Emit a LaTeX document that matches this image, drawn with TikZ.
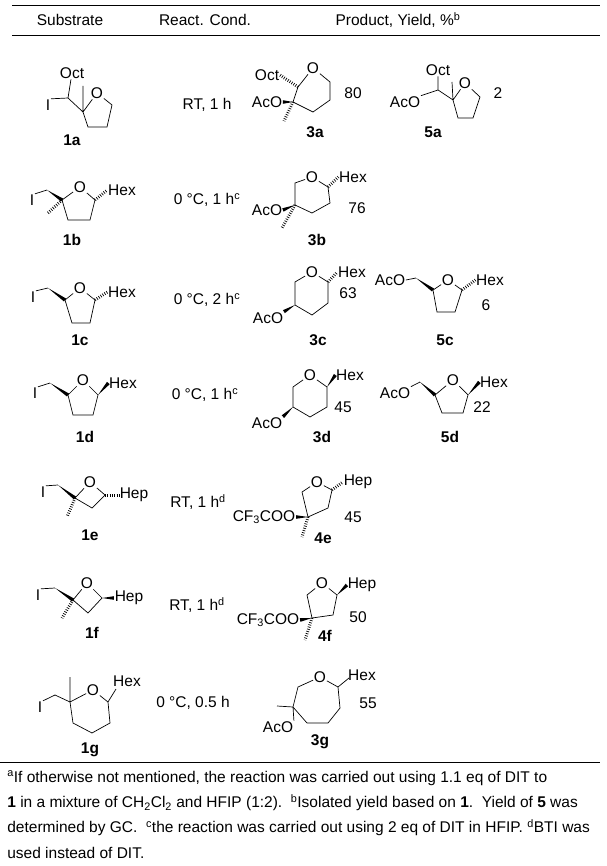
\documentclass[tikz,border=0pt]{standalone}
\usepackage{fontspec}
\setmainfont{Liberation Sans}
\usetikzlibrary{calc}
\newcommand\fs{\fontsize{15.5}{18}\selectfont}
\newcommand\wdg[2]{\fill (#1) -- ($(#2)!1.8pt!90:(#1)$) -- ($(#2)!1.8pt!-90:(#1)$) -- cycle;}
\newcommand\hsh[2]{\draw[line width=3pt,dash pattern=on 0.7pt off 1.6pt] (#1) -- (#2);}
\begin{document}
\begin{tikzpicture}[x=1pt,y=-1pt,line width=0.7pt,
  lbl/.style={inner sep=0.5pt,font=\fs},
  cmp/.style={inner sep=1pt,font=\fs\bfseries},
  txt/.style={inner sep=0pt,font=\fs}]
\useasboundingbox (0,0) rectangle (606,866);
% table rules
\coordinate (t1) at (12,5); \coordinate (t2) at (600,5);
\coordinate (h1) at (12,35); \coordinate (h2) at (600,35);
\coordinate (b1) at (0,762); \coordinate (b2) at (600,762);
\draw[line width=0.8pt] (t1)--(t2); \draw[line width=0.8pt] (h1)--(h2); \draw[line width=0.8pt] (b1)--(b2);
\node[txt] (hs) at (70,20) {Substrate};
\node[txt] (hr) at (205,20) {React. Cond.};
\node[txt] (hp) at (398,20) {Product, Yield, \%\textsuperscript{b}};
% conditions
\node[txt] (c1) at (207,105) {RT, 1 h};
\node[txt] (c2) at (207,200) {0 °C, 1 h\textsuperscript{c}};
\node[txt] (c3) at (207,300) {0 °C, 2 h\textsuperscript{c}};
\node[txt] (c4) at (205,395) {0 °C, 1 h\textsuperscript{c}};
\node[txt] (c5) at (198,502) {RT, 1 h\textsuperscript{d}};
\node[txt] (c6) at (197,605) {RT, 1 h\textsuperscript{d}};
\node[txt] (c7) at (193,703) {0 °C, 0.5 h};
% ---------- 1a
\node[lbl] (aOct) at (72,73) {Oct};
\node[lbl] (aI) at (48,105) {I};
\node[lbl] (aO) at (97,93) {O};
\coordinate (a1) at (68,98); \coordinate (a2) at (83,112); \coordinate (a3) at (112,105);
\coordinate (a4) at (107,127); \coordinate (a5) at (88,127); \coordinate (am) at (83,86);
\draw (aOct)--(a1) (aI.north east)--(a1)--(a2)--(aO)--(a3)--(a4)--(a5)--(a2)--(am);
\node[cmp] (l1a) at (72,140) {1a};
% ---------- 3a
\node[lbl] (bOct) at (267,75) {Oct};
\node[lbl] (bO) at (313,68) {O};
\node[lbl] (bAcO) at (267,102) {AcO};
\coordinate (b2c) at (298,87); \coordinate (b6) at (330,82); \coordinate (b5) at (330,100);
\coordinate (b4) at (313,112); \coordinate (b3) at (293,102); \coordinate (bm) at (284,121);
\draw (b2c)--(bO)--(b6)--(b5)--(b4)--(b3)--(b2c);
\hsh{b2c}{bOct.east} \wdg{b3}{bAcO.east} \hsh{b3}{bm}
\node[txt] (y3a) at (353,93) {80};
\node[cmp] (l3a) at (315,132) {3a};
% ---------- 5a
\node[lbl] (cOct) at (438,70) {Oct};
\node[lbl] (cAcO) at (405,102) {AcO};
\node[lbl] (cO) at (465,83) {O};
\coordinate (c1c) at (438,90); \coordinate (c2c) at (453,100); \coordinate (c3c) at (480,97);
\coordinate (c4c) at (473,118); \coordinate (c5c) at (458,118); \coordinate (cm) at (452,82);
\draw (cOct)--(c1c)--(cAcO.north east) (c1c)--(c2c)--(cO)--(c3c)--(c4c)--(c5c)--(c2c)--(cm);
\node[txt] (y5a) at (498,93) {2};
\node[cmp] (l5a) at (433,132) {5a};
% ---------- 1b
\node[lbl] (dI) at (32,200) {I};
\node[lbl] (dO) at (80,187) {O};
\node[lbl] (dHex) at (122,190) {Hex};
\coordinate (d1) at (47,190); \coordinate (d2) at (62,200); \coordinate (d3) at (95,200);
\coordinate (d4) at (90,220); \coordinate (d5) at (68,220); \coordinate (dm) at (47,214);
\draw (dI.north east)--(d1) (d2)--(dO)--(d3)--(d4)--(d5)--(d2);
\wdg{d1}{d2} \hsh{d2}{dm} \hsh{d3}{dHex.west}
\node[cmp] (l1b) at (72,240) {1b};
% ---------- 3b
\node[lbl] (eO) at (312,177) {O};
\node[lbl] (eHex) at (353,177) {Hex};
\node[lbl] (eAcO) at (267,210) {AcO};
\coordinate (e2) at (328,187); \coordinate (e3) at (330,203); \coordinate (e4) at (312,213);
\coordinate (e5) at (295,205); \coordinate (e6) at (295,183); \coordinate (em) at (282,228);
\draw (eO)--(e2)--(e3)--(e4)--(e5)--(e6)--(eO);
\hsh{e2}{eHex.west} \wdg{e5}{eAcO.east} \hsh{e5}{em}
\node[txt] (y3b) at (357,208) {76};
\node[cmp] (l3b) at (317,240) {3b};
% ---------- 1c
\node[lbl] (fI) at (33,297) {I};
\node[lbl] (fO) at (80,288) {O};
\node[lbl] (fHex) at (122,292) {Hex};
\coordinate (f1) at (48,288); \coordinate (f2) at (65,300); \coordinate (f3) at (95,300);
\coordinate (f4) at (90,323); \coordinate (f5) at (72,323);
\draw (fI.north east)--(f1) (f2)--(fO)--(f3)--(f4)--(f5)--(f2);
\wdg{f1}{f2} \hsh{f3}{fHex.west}
\node[cmp] (l1c) at (80,340) {1c};
% ---------- 3c
\node[lbl] (gO) at (312,272) {O};
\node[lbl] (gHex) at (352,272) {Hex};
\node[lbl] (gAcO) at (268,318) {AcO};
\coordinate (g2) at (328,282); \coordinate (g3) at (328,303); \coordinate (g4) at (312,315);
\coordinate (g5) at (295,305); \coordinate (g6) at (295,282);
\draw (gO)--(g2)--(g3)--(g4)--(g5)--(g6)--(gO);
\hsh{g2}{gHex.west} \wdg{g5}{gAcO.north east}
\node[txt] (y3c) at (348,293) {63};
\node[cmp] (l3c) at (318,340) {3c};
% ---------- 5c
\node[lbl] (hAcO) at (390,280) {AcO};
\node[lbl] (hO) at (448,280) {O};
\node[lbl] (hHex) at (490,280) {Hex};
\coordinate (h1c) at (416,278); \coordinate (h2c) at (433,290); \coordinate (h3c) at (462,290);
\coordinate (h4c) at (455,312); \coordinate (h5c) at (437,312);
\draw (hAcO.east)--(h1c) (h2c)--(hO)--(h3c)--(h4c)--(h5c)--(h2c);
\wdg{h1c}{h2c} \hsh{h3c}{hHex.west}
\node[txt] (y5c) at (486,305) {6};
\node[cmp] (l5c) at (445,340) {5c};
% ---------- 1d
\node[lbl] (iI) at (35,393) {I};
\node[lbl] (iO) at (83,380) {O};
\node[lbl] (iHex) at (123,383) {Hex};
\coordinate (i1) at (50,383); \coordinate (i2) at (68,395); \coordinate (i3) at (98,395);
\coordinate (i4) at (93,415); \coordinate (i5) at (73,415);
\draw (iI.north east)--(i1) (i2)--(iO)--(i3)--(i4)--(i5)--(i2);
\wdg{i1}{i2} \wdg{i3}{iHex.west}
\node[cmp] (l1d) at (85,437) {1d};
% ---------- 3d
\node[lbl] (jO) at (310,375) {O};
\node[lbl] (jHex) at (350,375) {Hex};
\node[lbl] (jAcO) at (267,423) {AcO};
\coordinate (j2) at (327,387); \coordinate (j3) at (327,407); \coordinate (j4) at (310,417);
\coordinate (j5) at (293,407); \coordinate (j6) at (293,387);
\draw (jO)--(j2)--(j3)--(j4)--(j5)--(j6)--(jO);
\wdg{j2}{jHex.west} \wdg{j5}{jAcO.north east}
\node[txt] (y3d) at (343,407) {45};
\node[cmp] (l3d) at (322,437) {3d};
% ---------- 5d
\node[lbl] (kAcO) at (395,393) {AcO};
\node[lbl] (kO) at (453,380) {O};
\node[lbl] (kHex) at (494,382) {Hex};
\coordinate (k1) at (420,382); \coordinate (k2) at (435,395); \coordinate (k3) at (468,395);
\coordinate (k4) at (463,413); \coordinate (k5) at (442,413);
\draw (kAcO.north east)--(k1) (k2)--(kO)--(k3)--(k4)--(k5)--(k2);
\wdg{k1}{k2} \wdg{k3}{kHex.west}
\node[txt] (y5d) at (482,407) {22};
\node[cmp] (l5d) at (450,437) {5d};
% ---------- 1e
\node[lbl] (mI) at (43,492) {I};
\node[lbl] (mO) at (90,482) {O};
\node[lbl] (mHep) at (134,495) {Hep};
\coordinate (m1) at (58,485); \coordinate (m2) at (75,498); \coordinate (m3) at (105,495);
\coordinate (m4) at (92,508); \coordinate (mm) at (67,517);
\draw (mI.north east)--(m1) (m2)--(mO)--(m3)--(m4)--(m2);
\wdg{m1}{m2} \hsh{m2}{mm} \hsh{m3}{mHep.west}
\node[cmp] (l1e) at (90,535) {1e};
% ---------- 4e
\node[lbl] (nO) at (317,482) {O};
\node[lbl] (nHep) at (358,482) {Hep};
\node[lbl] (nTFA) at (264,517) {CF\textsubscript{3}COO};
\coordinate (n2) at (332,490); \coordinate (n3) at (328,508); \coordinate (n4) at (308,517);
\coordinate (n5) at (302,492); \coordinate (nm) at (302,537);
\draw (nO)--(n2)--(n3)--(n4)--(n5)--(nO);
\hsh{n2}{nHep.west} \wdg{n4}{nTFA.east} \hsh{n4}{nm}
\node[txt] (y4e) at (353,517) {45};
\node[cmp] (l4e) at (323,538) {4e};
% ---------- 1f
\node[lbl] (pI) at (38,595) {I};
\node[lbl] (pO) at (87,583) {O};
\node[lbl] (pHep) at (129,598) {Hep};
\coordinate (p1) at (55,588); \coordinate (p2) at (73,600); \coordinate (p3) at (102,598);
\coordinate (p4) at (88,613); \coordinate (pm) at (62,618);
\draw (pI.north east)--(p1) (p2)--(pO)--(p3)--(p4)--(p2);
\wdg{p1}{p2} \hsh{p2}{pm} \wdg{p3}{pHep.west}
\node[cmp] (l1f) at (92,633) {1f};
% ---------- 4f
\node[lbl] (qO) at (322,583) {O};
\node[lbl] (qHep) at (362,585) {Hep};
\node[lbl] (qTFA) at (268,620) {CF\textsubscript{3}COO};
\coordinate (q2) at (337,595); \coordinate (q3) at (333,615); \coordinate (q4) at (312,618);
\coordinate (q5) at (307,595); \coordinate (qm) at (305,640);
\draw (qO)--(q2)--(q3)--(q4)--(q5)--(qO);
\wdg{q2}{qHep.west} \wdg{q4}{qTFA.east} \hsh{q4}{qm}
\node[txt] (y4f) at (358,617) {50};
\node[cmp] (l4f) at (325,636) {4f};
% ---------- 1g
\node[lbl] (rI) at (40,707) {I};
\node[lbl] (rO) at (93,690) {O};
\node[lbl] (rHex) at (127,681) {Hex};
\coordinate (r1) at (55,695); \coordinate (r2) at (70,702); \coordinate (r3) at (108,702);
\coordinate (r4) at (110,723); \coordinate (r5) at (92,733); \coordinate (r6) at (73,723);
\coordinate (rm) at (70,677); \coordinate (rh) at (116,689);
\draw (rI.north east)--(r1)--(r2)--(rO)--(r3)--(r4)--(r5)--(r6)--(r2)--(rm) (r3)--(rh);
\node[cmp] (l1g) at (90,750) {1g};
% ---------- 3g
\node[lbl] (sO) at (320,677) {O};
\node[lbl] (sHex) at (362,675) {Hex};
\node[lbl] (sAcO) at (278,727) {AcO};
\coordinate (s2) at (338,687); \coordinate (s3) at (340,708); \coordinate (s4) at (328,723);
\coordinate (s5) at (307,723); \coordinate (s6) at (293,707); \coordinate (s7) at (298,687);
\coordinate (sm) at (277,706); \coordinate (sh) at (349,678);
\draw (sO)--(s2)--(s3)--(s4)--(s5)--(s6)--(s7)--(sO) (s2)--(sh) (s6)--(sm) (s6)--(sAcO.north east);
\node[txt] (y3g) at (368,703) {55};
\node[cmp] (l3g) at (320,742) {3g};
% footnotes
\node[txt,anchor=west] (fn1) at (7,778) {\textsuperscript{a}If otherwise not mentioned, the reaction was carried out using 1.1 eq of DIT to};
\node[txt,anchor=west] (fn2) at (7,803) {\textbf{1} in a mixture of CH\textsubscript{2}Cl\textsubscript{2} and HFIP (1:2).\ \ \textsuperscript{b}Isolated yield based on \textbf{1}.\ \ Yield of \textbf{5} was};
\node[txt,anchor=west] (fn3) at (7,828) {determined by GC.\ \ \textsuperscript{c}the reaction was carried out using 2 eq of DIT in HFIP. \textsuperscript{d}BTI was};
\node[txt,anchor=west] (fn4) at (7,853) {used instead of DIT.};
\end{tikzpicture}
\end{document}
